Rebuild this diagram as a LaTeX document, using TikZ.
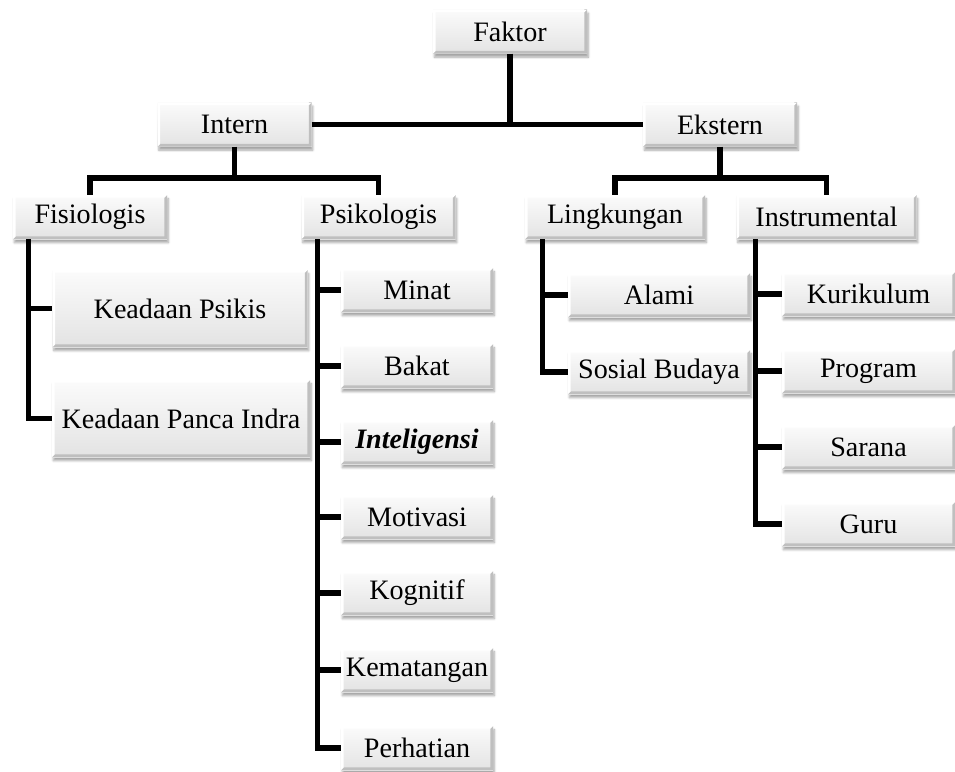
\documentclass[tikz,border=0pt]{standalone}
\usepackage{fontspec}
\setmainfont{Liberation Serif}
\usetikzlibrary{shadows,shadows.blur}
\begin{document}
\begin{tikzpicture}[x=0.3mm, y=-0.3mm, font=\fontsize{24}{27}\selectfont,
    box/.style={fill=gray!12, top color=gray!3, bottom color=gray!22,
      inner sep=0pt, minimum width=154*\u, minimum height=44*\u,
      blur shadow={shadow blur steps=6, shadow xshift=0.4mm, shadow yshift=-1.1mm, shadow opacity=35},
      path picture={
        \fill[gray!50] (path picture bounding box.south west) -- ++(0.8mm,0.8mm)
          -| ([shift={(-0.8mm,0.8mm)}]path picture bounding box.north east)
          -- (path picture bounding box.north east) |- cycle;
        \fill[white] (path picture bounding box.south west) -- ++(0.8mm,0.8mm)
          |- ([shift={(-0.8mm,-0.8mm)}]path picture bounding box.north east)
          -- (path picture bounding box.north east) -| cycle;
      }},
    link/.style={line width=1.6mm}]
    % Parameters
    \def\u{0.3mm}
    \def\bar{178}
    \useasboundingbox (0,0) rectangle (955,771);

    % Top levels
    \node[box] (faktor) at (510,31.5) {Faktor};
    \node[box] (intern) at (234.5,124.5) {Intern};
    \node[box] (ekstern) at (720,124.5) {Ekstern};
    \node[box] (fis) at (90,217) {Fisiologis};
    \node[box] (psi) at (378.5,217) {Psikologis};
    \node[box, minimum width=180*\u] (ling) at (615,217) {Lingkungan};
    \node[box, minimum width=180*\u] (instr) at (826.5,217) {Instrumental};

    % Fisiologis
    \node[box, minimum width=255*\u, minimum height=77*\u] (kps) at (180,308.5) {Keadaan Psikis};
    \node[box, minimum width=258*\u, minimum height=77*\u] (kpi) at (181,418.5) {Keadaan Panca Indra};

    % Psikologis
    \node[box, minimum width=152*\u] (minat) at (417,290) {Minat};
    \node[box, minimum width=152*\u] (bakat) at (417,366) {Bakat};
    \node[box, minimum width=152*\u] (intel) at (417,442) {\textbf{\textit{Inteligensi}}};
    \node[box, minimum width=152*\u] (motiv) at (417,517) {Motivasi};
    \node[box, minimum width=152*\u] (kogn) at (417,593) {Kognitif};
    \node[box, minimum width=152*\u] (kemat) at (417,670) {Kematangan};
    \node[box, minimum width=152*\u] (perh) at (417,748) {Perhatian};

    % Lingkungan
    \node[box, minimum width=182*\u] (alami) at (659,295) {Alami};
    \node[box, minimum width=182*\u] (sosbud) at (659,372) {Sosial Budaya};

    % Instrumental
    \node[box, minimum width=173*\u] (kurik) at (868.5,294) {Kurikulum};
    \node[box, minimum width=173*\u] (prog) at (868.5,371) {Program};
    \node[box, minimum width=173*\u] (sarana) at (868.5,447) {Sarana};
    \node[box, minimum width=173*\u] (guru) at (868.5,524) {Guru};

    % Connectors
    \coordinate (ibar) at (234.5,\bar);
    \coordinate (ebar) at (720,\bar);
    \draw[link] (faktor.south) -- (faktor.south |- intern.east);
    \draw[link] (intern.east) -- (ekstern.west);
    \draw[link] (intern.south) -- (ibar);
    \draw[link] (fis.north) |- (ibar) -| (psi.north);
    \draw[link] (ekstern.south) -- (ebar);
    \draw[link] (ling.north) |- (ebar) -| (instr.north);

    \foreach \c in {kps,kpi}
      \draw[link] ([xshift=4.8mm]fis.south west) |- (\c.west);
    \foreach \c in {minat,bakat,intel,motiv,kogn,kemat,perh}
      \draw[link] ([xshift=4.8mm]psi.south west) |- (\c.west);
    \foreach \c in {alami,sosbud}
      \draw[link] ([xshift=5.4mm]ling.south west) |- (\c.west);
    \foreach \c in {kurik,prog,sarana,guru}
      \draw[link] ([xshift=5.7mm]instr.south west) |- (\c.west);
\end{tikzpicture}
\end{document}
